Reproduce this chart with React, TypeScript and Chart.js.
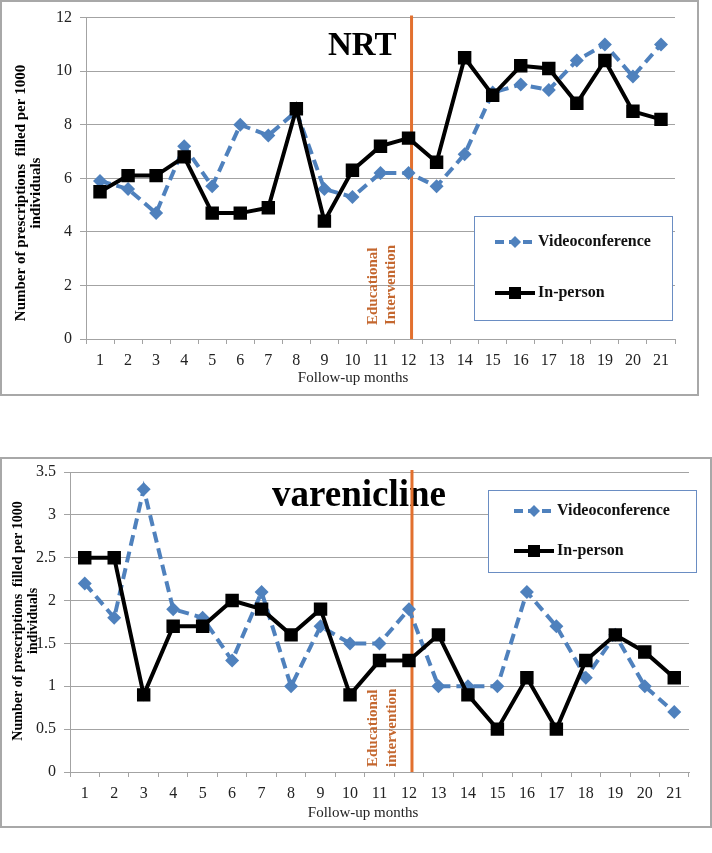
import React, { useEffect, useRef } from 'react';
import { Chart, registerables } from 'chart.js';

Chart.register(...registerables);

const months = ['1','2','3','4','5','6','7','8','9','10','11','12','13','14','15','16','17','18','19','20','21'];

const nrtVideo = [5.9, 5.6, 4.7, 7.2, 5.7, 8.0, 7.6, 8.5, 5.6, 5.3, 6.2, 6.2, 5.7, 6.9, 9.2, 9.5, 9.3, 10.4, 11.0, 9.8, 11.0];
const nrtInPerson = [5.5, 6.1, 6.1, 6.8, 4.7, 4.7, 4.9, 8.6, 4.4, 6.3, 7.2, 7.5, 6.6, 10.5, 9.1, 10.2, 10.1, 8.8, 10.4, 8.5, 8.2];

const varVideo = [2.2, 1.8, 3.3, 1.9, 1.8, 1.3, 2.1, 1.0, 1.7, 1.5, 1.5, 1.9, 1.0, 1.0, 1.0, 2.1, 1.7, 1.1, 1.6, 1.0, 0.7];
const varInPerson = [2.5, 2.5, 0.9, 1.7, 1.7, 2.0, 1.9, 1.6, 1.9, 0.9, 1.3, 1.3, 1.6, 0.9, 0.5, 1.1, 0.5, 1.3, 1.6, 1.4, 1.1];

const nrtYMax = 12;
const nrtYStep = 2;
const varYMax = 3.5;
const varYStep = 0.5;

const seriesNames = ['Videoconference', 'In-person'];
const interventionMonthIndex = 11;

const FONT = "'Liberation Serif', 'Times New Roman', serif";
const BLUE = '#4F81BD';
const ORANGE = '#E2702E';
const EDU_COLOR = '#C4672F';
const GRID = '#A3A3A3';
const W = 712;

type Spec = {
  top: number;
  height: number;
  area: { left: number; right: number; top: number; bottom: number };
  border: [number, number, number, number];
  title: string; titleX: number; titleY: number; titleSize: number;
  yTitle: [string, string]; yTitleX: [number, number]; yTitleY: number; yTitleSize: number;
  xTitle: string; xTitleX: number; xTitleY: number;
  edu: [string, string]; eduX: [number, number]; eduBottom: number;
  legendBox: [number, number, number, number]; legendLine: [number, number]; legendY: [number, number]; legendTextX: number;
  yMax: number; yStep: number;
  video: number[]; inPerson: number[];
};

const specs: Spec[] = [
  {
    top: 0, height: 430,
    area: { left: 86, right: 675, top: 13, bottom: 339 },
    border: [1, 1, 697, 394],
    title: 'NRT', titleX: 328, titleY: 55, titleSize: 33,
    yTitle: ['Number of prescriptions  filled per 1000', 'individuals'], yTitleX: [21, 36], yTitleY: 193, yTitleSize: 15,
    xTitle: 'Follow-up months', xTitleX: 353, xTitleY: 378,
    edu: ['Educational', 'Intervention'], eduX: [373, 391], eduBottom: 325,
    legendBox: [474, 216, 198, 104], legendLine: [495, 535], legendY: [242, 293], legendTextX: 538,
    yMax: nrtYMax, yStep: nrtYStep,
    video: nrtVideo, inPerson: nrtInPerson,
  },
  {
    top: 430, height: 423,
    area: { left: 70, right: 689, top: 42, bottom: 342 },
    border: [1, 28, 710, 369],
    title: 'varenicline', titleX: 272, titleY: 76, titleSize: 37,
    yTitle: ['Number of prescriptions  filled per 1000', 'individuals'], yTitleX: [18, 33], yTitleY: 191, yTitleSize: 14,
    xTitle: 'Follow-up months', xTitleX: 363, xTitleY: 383,
    edu: ['Educational', 'intervention'], eduX: [373, 392], eduBottom: 337,
    legendBox: [488, 60, 208, 82], legendLine: [514, 554], legendY: [81, 121], legendTextX: 557,
    yMax: varYMax, yStep: varYStep,
    video: varVideo, inPerson: varInPerson,
  },
];

function drawDiamond(ctx: CanvasRenderingContext2D, x: number, y: number, r: number, color: string) {
  ctx.beginPath();
  ctx.moveTo(x, y - r);
  ctx.lineTo(x + r, y);
  ctx.lineTo(x, y + r);
  ctx.lineTo(x - r, y);
  ctx.closePath();
  ctx.fillStyle = color;
  ctx.fill();
}

function makePlugin(s: Spec) {
  return {
    id: 'decor',
    beforeDatasetsDraw(chart: any) {
      const ctx: CanvasRenderingContext2D = chart.ctx;
      const xs = chart.scales.x;
      const ca = chart.chartArea;
      ctx.save();
      ctx.fillStyle = '#000';
      ctx.font = `bold ${s.titleSize}px ${FONT}`;
      ctx.textAlign = 'left';
      ctx.textBaseline = 'alphabetic';
      ctx.fillText(s.title, s.titleX, s.titleY);
      ctx.fillStyle = EDU_COLOR;
      ctx.font = `bold 15px ${FONT}`;
      for (let i = 0; i < 2; i++) {
        ctx.save();
        ctx.translate(s.eduX[i], s.eduBottom);
        ctx.rotate(-Math.PI / 2);
        ctx.textAlign = 'left';
        ctx.textBaseline = 'middle';
        ctx.fillText(s.edu[i], 0, 0);
        ctx.restore();
      }
      const ix = xs.getPixelForValue(interventionMonthIndex) + 3;
      ctx.strokeStyle = ORANGE;
      ctx.lineWidth = 3;
      ctx.beginPath();
      ctx.moveTo(ix, ca.top - 2);
      ctx.lineTo(ix, ca.bottom);
      ctx.stroke();
      ctx.restore();
    },
    afterDraw(chart: any) {
      const ctx: CanvasRenderingContext2D = chart.ctx;
      ctx.save();
      ctx.strokeStyle = '#A8A8A8';
      ctx.lineWidth = 2;
      ctx.strokeRect(s.border[0], s.border[1], s.border[2], s.border[3]);
      ctx.fillStyle = '#000';
      ctx.font = `bold ${s.yTitleSize}px ${FONT}`;
      for (let i = 0; i < 2; i++) {
        ctx.save();
        ctx.translate(s.yTitleX[i], s.yTitleY);
        ctx.rotate(-Math.PI / 2);
        ctx.textAlign = 'center';
        ctx.textBaseline = 'middle';
        ctx.fillText(s.yTitle[i], 0, 0);
        ctx.restore();
      }
      ctx.font = `15px ${FONT}`;
      ctx.fillStyle = '#222';
      ctx.textAlign = 'center';
      ctx.textBaseline = 'middle';
      ctx.fillText(s.xTitle, s.xTitleX, s.xTitleY);
      const [bx, by, bw, bh] = s.legendBox;
      ctx.fillStyle = '#fff';
      ctx.fillRect(bx, by, bw, bh);
      ctx.strokeStyle = '#6A8DC3';
      ctx.lineWidth = 1;
      ctx.strokeRect(bx + 0.5, by + 0.5, bw, bh);
      const [l0, l1] = s.legendLine;
      const mid = (l0 + l1) / 2;
      ctx.strokeStyle = BLUE;
      ctx.lineWidth = 4;
      ctx.setLineDash([9, 5]);
      ctx.beginPath();
      ctx.moveTo(l0, s.legendY[0]);
      ctx.lineTo(l1, s.legendY[0]);
      ctx.stroke();
      ctx.setLineDash([]);
      drawDiamond(ctx, mid, s.legendY[0], 6, BLUE);
      ctx.strokeStyle = '#000';
      ctx.beginPath();
      ctx.moveTo(l0, s.legendY[1]);
      ctx.lineTo(l1, s.legendY[1]);
      ctx.stroke();
      ctx.fillStyle = '#000';
      ctx.fillRect(mid - 6, s.legendY[1] - 6, 12, 12);
      ctx.font = `bold 16px ${FONT}`;
      ctx.textAlign = 'left';
      ctx.textBaseline = 'middle';
      ctx.fillStyle = '#111';
      ctx.fillText(seriesNames[0], s.legendTextX, s.legendY[0]);
      ctx.fillText(seriesNames[1], s.legendTextX, s.legendY[1]);
      ctx.restore();
    },
  };
}

function ChartPanel({ spec }: { spec: Spec }) {
  const ref = useRef<HTMLCanvasElement | null>(null);
  useEffect(() => {
    if (!ref.current) return;
    const s = spec;
    const chart = new Chart(ref.current, {
      type: 'line',
      data: {
        labels: months,
        datasets: [
          {
            label: seriesNames[1],
            data: s.inPerson,
            borderColor: '#000',
            backgroundColor: '#000',
            borderWidth: 4,
            pointStyle: 'rect',
            pointRadius: 9.5,
            pointBorderWidth: 0,
            tension: 0,
            order: 1,
          },
          {
            label: seriesNames[0],
            data: s.video,
            borderColor: BLUE,
            backgroundColor: BLUE,
            borderWidth: 4,
            borderDash: [11, 6],
            pointStyle: 'rectRot',
            pointRadius: 7,
            pointBorderWidth: 0,
            tension: 0,
            order: 2,
          },
        ],
      },
      options: {
        responsive: false,
        animation: false,
        layout: { padding: { left: 0, right: W - s.area.right, top: s.area.top, bottom: 0 } },
        plugins: { legend: { display: false }, tooltip: { enabled: false }, title: { display: false } },
        scales: {
          x: {
            type: 'category',
            offset: true,
            grid: { offset: true, drawOnChartArea: false, drawTicks: true, tickLength: 5, color: GRID },
            border: { color: GRID, width: 1 },
            ticks: { font: { family: FONT, size: 16 }, color: '#222', padding: 7, maxRotation: 0, autoSkip: false },
            afterFit: (sc: any) => { sc.height = s.height - s.area.bottom; },
          },
          y: {
            min: 0,
            max: s.yMax,
            ticks: {
              stepSize: s.yStep,
              font: { family: FONT, size: 16 },
              color: '#222',
              padding: 8,
              callback: (v: any) => String(Number(v)),
            },
            grid: { color: GRID, tickLength: 6, lineWidth: 1 },
            border: { color: GRID, width: 1 },
            afterFit: (sc: any) => { sc.width = s.area.left; },
          },
        },
      },
      plugins: [makePlugin(s)],
    } as any);
    return () => chart.destroy();
  }, [spec]);
  return (
    <canvas
      ref={ref}
      width={W}
      height={spec.height}
      style={{ position: 'absolute', left: 0, top: spec.top, width: W, height: spec.height }}
    />
  );
}

export default function App() {
  return (
    <div style={{ position: 'absolute', left: 0, top: 0, width: W, height: 853, background: '#fff' }}>
      {specs.map((s, i) => (
        <ChartPanel key={i} spec={s} />
      ))}
    </div>
  );
}
